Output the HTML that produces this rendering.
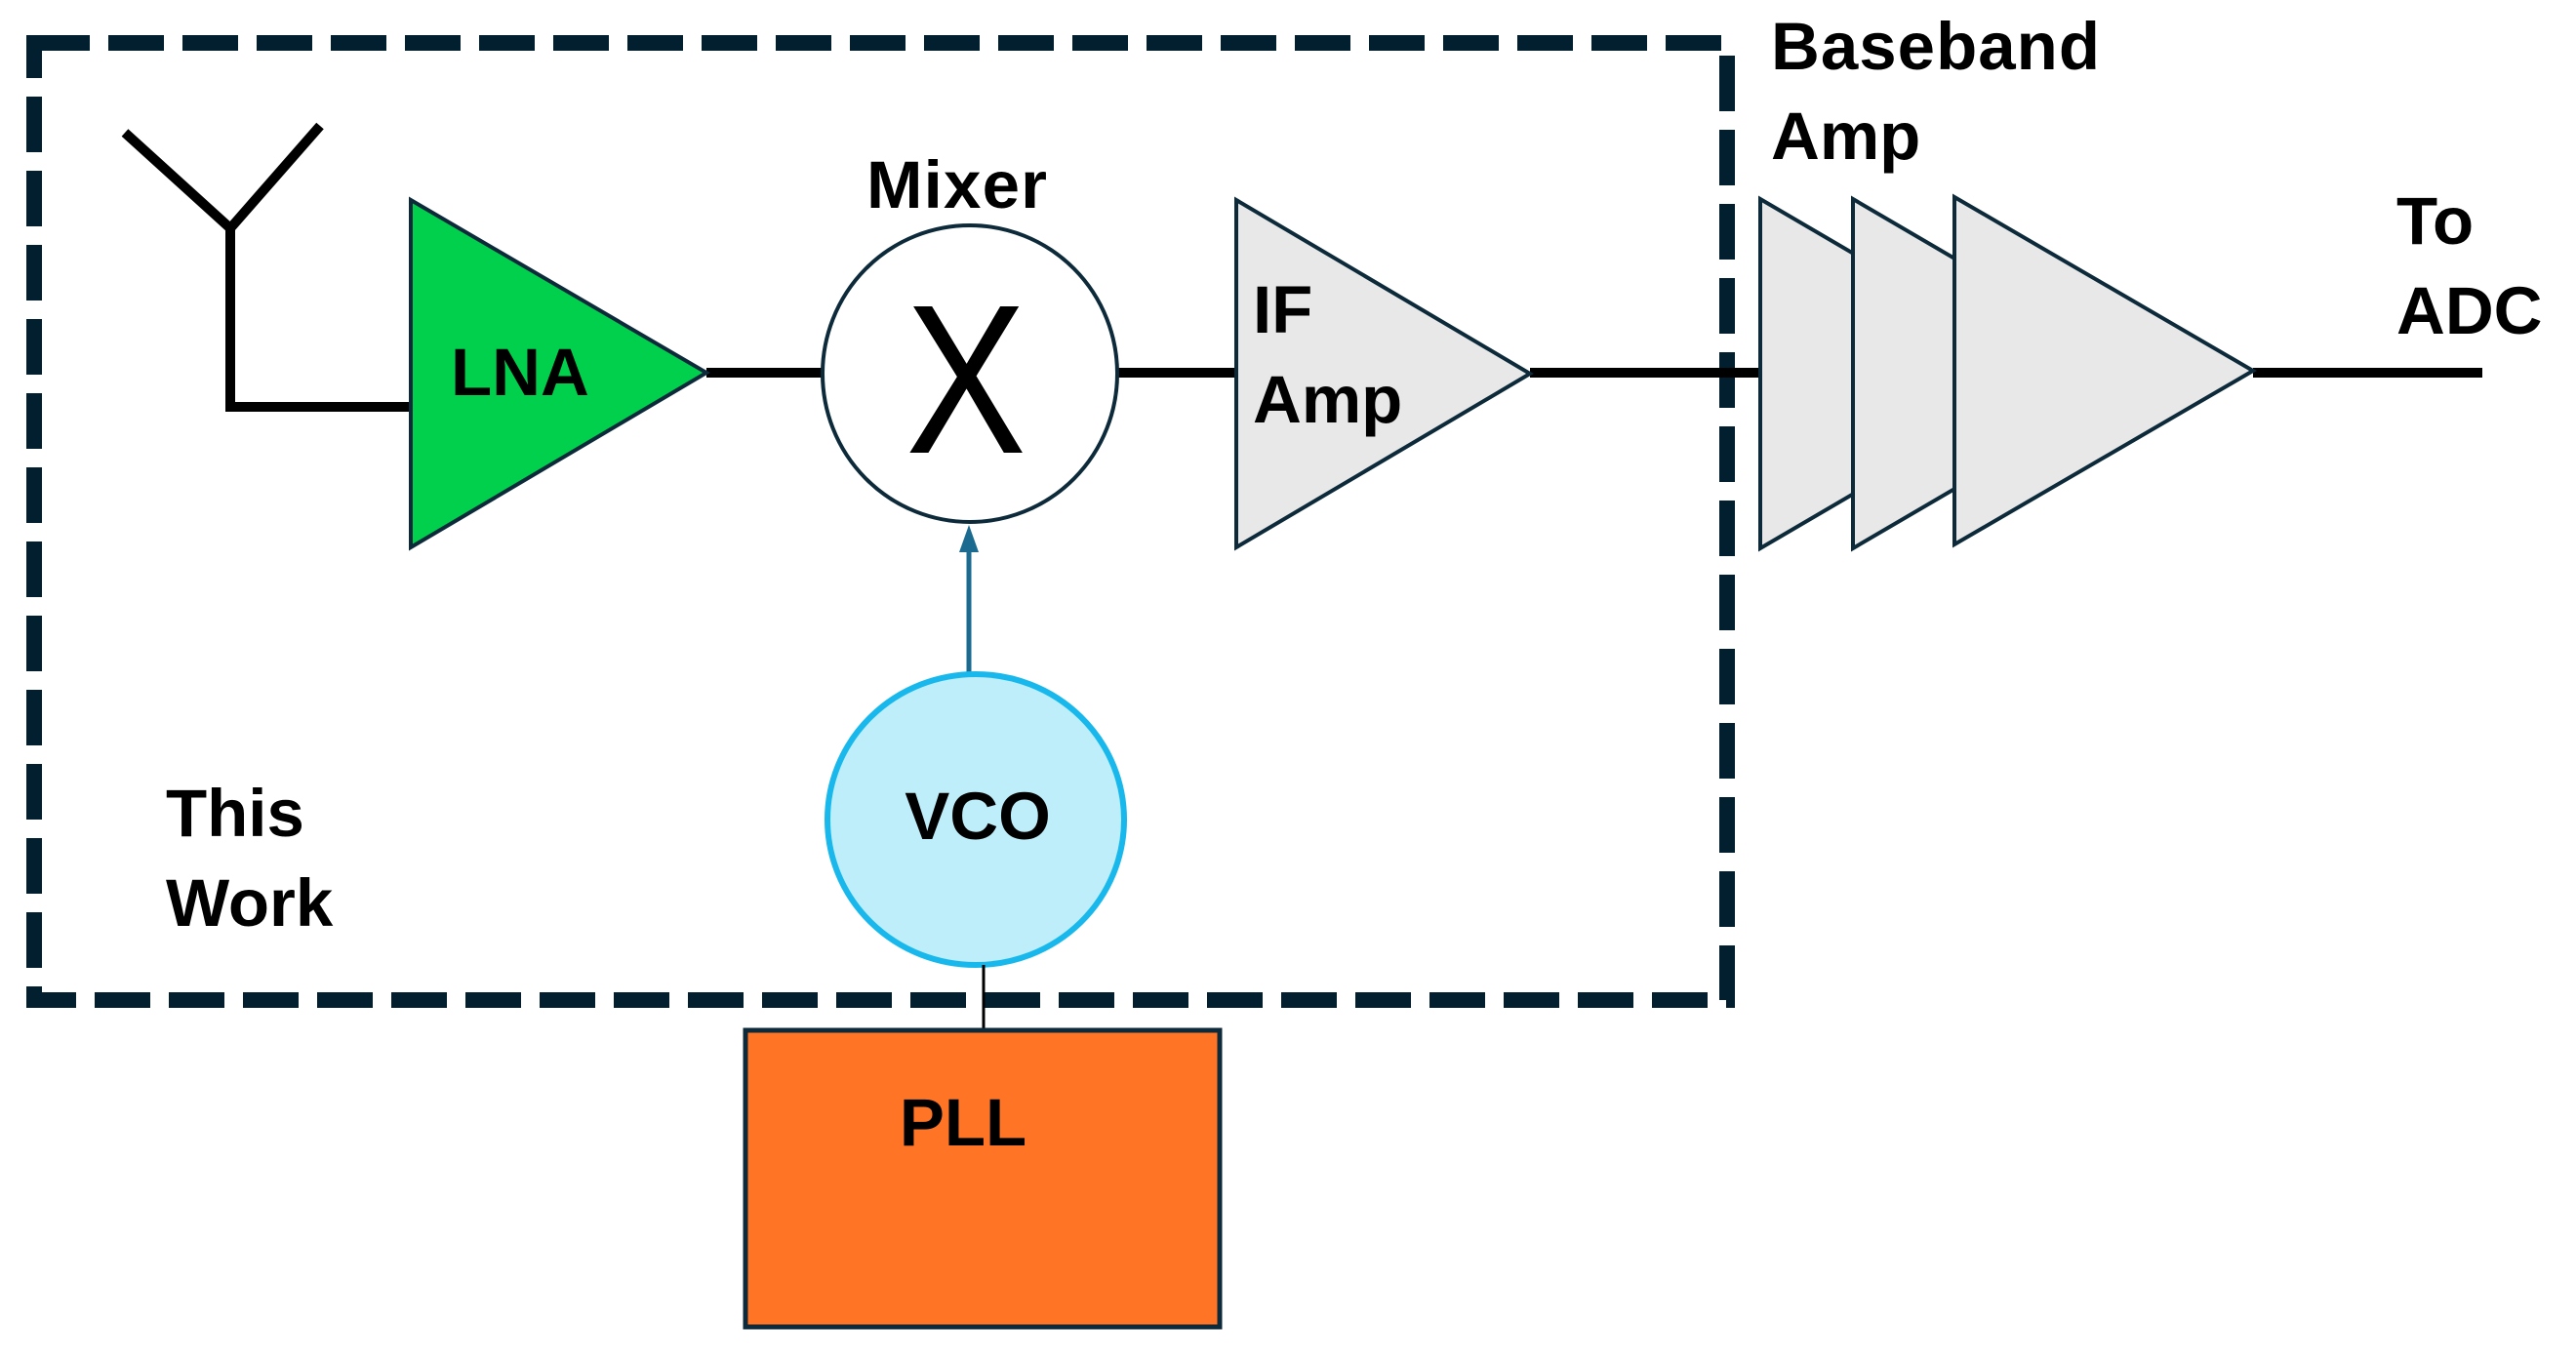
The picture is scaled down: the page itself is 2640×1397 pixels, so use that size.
<!DOCTYPE html>
<html><head><meta charset="utf-8"><style>
html,body{margin:0;padding:0;background:#fff;}
svg{display:block;}
text{font-family:"Liberation Sans",Arial,sans-serif;font-weight:bold;fill:#000;font-size:69px;}
</style></head><body>
<svg width="2640" height="1397" viewBox="0 0 2640 1397" xmlns="http://www.w3.org/2000/svg">
<rect x="0" y="0" width="2640" height="1397" fill="#fff"/>
<rect x="35" y="44" width="1735" height="981" fill="none" stroke="#021f30" stroke-width="16" stroke-dasharray="57 19"/>
<g stroke="#000" stroke-width="10" fill="none" stroke-linejoin="miter">
<polyline points="128,136 236,234 328,129"/>
<polyline points="236,234 236,417 421,417"/>
<line x1="724" y1="382" x2="844" y2="382"/>
<line x1="1145" y1="382" x2="1267" y2="382"/>
<line x1="1568" y1="382" x2="1806" y2="382"/>
<line x1="2309" y1="382" x2="2544" y2="382"/>
</g>
<polygon points="421,205 421,561 724,382" fill="#00d04c" stroke="#0d2a3a" stroke-width="4"/>
<text x="462" y="405">LNA</text>
<ellipse cx="994" cy="383" rx="151" ry="152" fill="#fff" stroke="#0d2a3a" stroke-width="4"/>
<text x="888" y="213" textLength="185">Mixer</text>
<text x="990" y="464" text-anchor="middle" style="font-weight:normal;font-size:218px" transform="translate(990 0) scale(0.85 1) translate(-990 0)">X</text>
<polygon points="1267,205 1267,561 1568,383" fill="#e8e8e8" stroke="#0d2a3a" stroke-width="4"/>
<text x="1284" y="341">IF</text>
<text x="1284" y="433">Amp</text>
<polygon points="1804,204 1804,562 2110,383" fill="#e8e8e8" stroke="#0d2a3a" stroke-width="4"/>
<polygon points="1899,204 1899,562 2205,383" fill="#e8e8e8" stroke="#0d2a3a" stroke-width="4"/>
<polygon points="2003,202 2003,558 2309,380" fill="#e8e8e8" stroke="#0d2a3a" stroke-width="4"/>
<text x="1815" y="71" textLength="337">Baseband</text>
<text x="1815" y="163">Amp</text>
<text x="2456" y="250">To</text>
<text x="2456" y="342">ADC</text>
<line x1="993" y1="690" x2="993" y2="560" stroke="#1a6b8f" stroke-width="5"/>
<polygon points="993,538 983,566 1003,566" fill="#1a6b8f"/>
<ellipse cx="1000" cy="840" rx="152" ry="149" fill="#bdeefa" stroke="#18b8ec" stroke-width="6"/>
<text x="1002" y="860" text-anchor="middle">VCO</text>
<text x="170" y="857">This</text>
<text x="170" y="949">Work</text>
<line x1="1008" y1="989" x2="1008" y2="1056" stroke="#000" stroke-width="3"/>
<rect x="764" y="1056" width="486" height="304" fill="#ff7425" stroke="#0d2a3a" stroke-width="5"/>
<text x="987" y="1174" text-anchor="middle">PLL</text>
</svg>
</body></html>
